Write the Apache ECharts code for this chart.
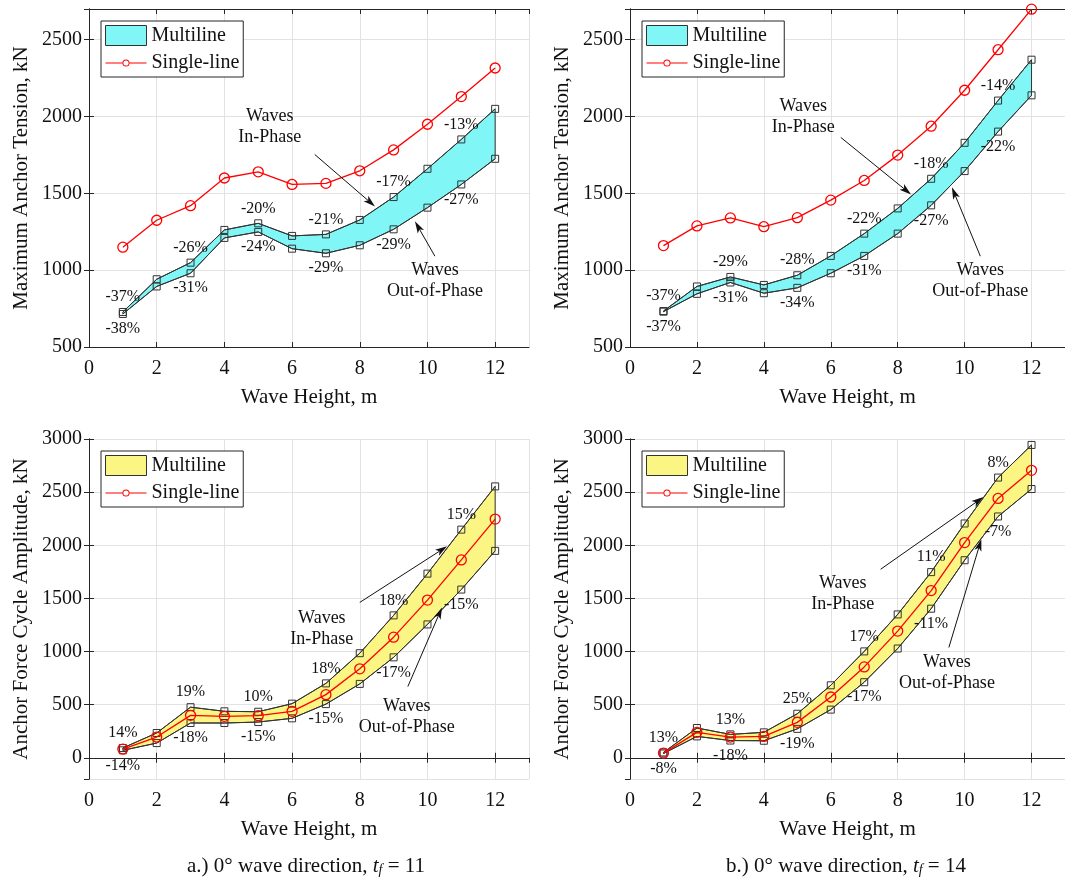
<!DOCTYPE html>
<html>
<head>
<meta charset="utf-8">
<script src="https://cdn.jsdelivr.net/npm/echarts@6/dist/echarts.min.js"></script>
<style>
  html, body { margin: 0; background: #fff; }
  #chart { width: 1065px; height: 879px; }
</style>
</head>
<body>
<div id="chart"></div>
<script>
// wave height, m
const waveHeight = [1, 2, 3, 4, 5, 6, 7, 8, 9, 10, 11, 12];

// maximum anchor tension, kN  (tf = 11)
const tensionSingle11 = [1150, 1325, 1420, 1600, 1640, 1558, 1565, 1647, 1783, 1950, 2130, 2316];
const tensionIn11 = [728, 941, 1049, 1262, 1305, 1223, 1233, 1327, 1476, 1660, 1851, 2050];
const tensionOut11 = [715, 894, 980, 1210, 1249, 1140, 1110, 1162, 1266, 1407, 1558, 1725];
const tensionInPct11 = ['-37%', '', '-26%', '', '-20%', '', '-21%', '', '-17%', '', '-13%', ''];
const tensionOutPct11 = ['-38%', '', '-31%', '', '-24%', '', '-29%', '', '-29%', '', '-27%', ''];

// maximum anchor tension, kN  (tf = 14)
const tensionSingle14 = [1160, 1288, 1340, 1283, 1342, 1456, 1584, 1749, 1937, 2171, 2435, 2699];
const tensionIn14 = [734, 894, 956, 904, 967, 1093, 1238, 1402, 1595, 1829, 2104, 2370];
const tensionOut14 = [730, 846, 920, 850, 885, 980, 1093, 1238, 1422, 1645, 1902, 2138];
const tensionInPct14 = ['-37%', '', '-29%', '', '-28%', '', '-22%', '', '-18%', '', '-14%', ''];
const tensionOutPct14 = ['-37%', '', '-31%', '', '-34%', '', '-31%', '', '-27%', '', '-22%', ''];

// anchor force cycle amplitude, kN  (tf = 11)
const ampSingle11 = [82, 195, 399, 390, 396, 437, 594, 837, 1135, 1484, 1862, 2246];
const ampIn11 = [92, 233, 476, 437, 433, 509, 700, 984, 1340, 1733, 2147, 2554];
const ampOut11 = [70, 138, 327, 327, 336, 371, 505, 695, 945, 1255, 1583, 1947];
const ampInPct11 = ['14%', '', '19%', '', '10%', '', '18%', '', '18%', '', '15%', ''];
const ampOutPct11 = ['-14%', '', '-18%', '', '-15%', '', '-15%', '', '-17%', '', '-15%', ''];

// anchor force cycle amplitude, kN  (tf = 14)
const ampSingle14 = [44, 239, 195, 201, 333, 572, 855, 1192, 1573, 2025, 2441, 2705];
const ampIn14 = [50, 280, 220, 239, 414, 682, 1001, 1349, 1747, 2205, 2637, 2944];
const ampOut14 = [40, 201, 162, 160, 272, 453, 711, 1028, 1403, 1859, 2271, 2529];
const ampInPct14 = ['13%', '', '13%', '', '25%', '', '17%', '', '11%', '', '8%', ''];
const ampOutPct14 = ['-8%', '', '-18%', '', '-19%', '', '-17%', '', '-11%', '', '-7%', ''];

// annotation anchors in data units: text x, text y, arrow start x, y, arrow tip x, y
const noteTexts = ['Waves\nIn-Phase', 'Waves\nOut-of-Phase'];
const notes = [
  [[5.34, 1935, 6.67, 1753, 8.45, 1415], [10.22, 928, 10.22, 1091, 9.63, 1318]],
  [[5.18, 2000, 6.30, 1864, 8.40, 1493], [10.47, 928, 10.47, 1091, 9.62, 1539]],
  [[6.88, 1217, 8.0, 1462, 10.58, 1990], [9.39, 387, 9.42, 670, 10.43, 1415]],
  [[6.36, 1547, 7.49, 1774, 10.56, 2453], [9.47, 802, 9.53, 1038, 10.50, 2057]]
];

const FONT = 'Liberation Serif';
const INK = '#111111';
const EDGE = '#333333';
const CYAN = '#80f6f6';
const YELLOW = '#fbf683';

const panels = [
  { single: tensionSingle11, upper: tensionIn11, lower: tensionOut11, upPct: tensionInPct11, lowPct: tensionOutPct11,
    band: CYAN, yName: 'Maximum Anchor Tension, kN', yMin: 500, yMax: 2700,
    grid: { left: 89, top: 9, width: 440, height: 338 } },
  { single: tensionSingle14, upper: tensionIn14, lower: tensionOut14, upPct: tensionInPct14, lowPct: tensionOutPct14,
    band: CYAN, yName: 'Maximum Anchor Tension, kN', yMin: 500, yMax: 2700,
    grid: { left: 630, top: 9, width: 440, height: 338 } },
  { single: ampSingle11, upper: ampIn11, lower: ampOut11, upPct: ampInPct11, lowPct: ampOutPct11,
    band: YELLOW, yName: 'Anchor Force Cycle Amplitude, kN', yMin: -200, yMax: 3000,
    grid: { left: 89, top: 439, width: 440, height: 340 } },
  { single: ampSingle14, upper: ampIn14, lower: ampOut14, upPct: ampInPct14, lowPct: ampOutPct14,
    band: YELLOW, yName: 'Anchor Force Cycle Amplitude, kN', yMin: -200, yMax: 3000,
    grid: { left: 630, top: 439, width: 440, height: 340 } }
];

const pairs = (ys) => waveHeight.map((x, k) => [x, ys[k]]);

const grids = [], xAxes = [], yAxes = [], series = [], legends = [];

// small red line + hollow circle for the legend
const singleIcon = 'path://M0,9.4h16.9v1.2H0z M24.1,9.4H41v1.2H24.1z ' +
  'M24.1,10a3.6,3.6 0 1,0 -7.2,0a3.6,3.6 0 1,0 7.2,0z M23.1,10a2.6,2.6 0 1,1 -5.2,0a2.6,2.6 0 1,1 5.2,0z';

// text + arrow, placed through the axes
function renderNote(params, api) {
  const t = api.coord([api.value(0), api.value(1)]);
  const s = api.coord([api.value(2), api.value(3)]);
  const e = api.coord([api.value(4), api.value(5)]);
  const len = Math.hypot(e[0] - s[0], e[1] - s[1]);
  const dx = (e[0] - s[0]) / len, dy = (e[1] - s[1]) / len;
  const L = 12, W = 3.6, N = 9;
  const b = [e[0] - dx * L, e[1] - dy * L];
  const n = [e[0] - dx * N, e[1] - dy * N];
  return {
    type: 'group',
    children: [
      { type: 'line', shape: { x1: s[0], y1: s[1], x2: n[0], y2: n[1] },
        style: { stroke: INK, lineWidth: 1 } },
      { type: 'polygon',
        shape: { points: [e, [b[0] - dy * W, b[1] + dx * W], n, [b[0] + dy * W, b[1] - dx * W]] },
        style: { fill: INK } },
      { type: 'text', x: t[0], y: t[1],
        style: { text: noteTexts[params.dataIndex], fontFamily: FONT, fontSize: 18, lineHeight: 21,
                 fill: INK, align: 'center', verticalAlign: 'middle' } }
    ]
  };
}

panels.forEach((p, i) => {
  grids.push(p.grid);
  const lineAx = { show: true, lineStyle: { color: '#262626', width: 1 } };
  const tickIn = { show: true, inside: true, length: 5, lineStyle: { color: '#262626' } };

  xAxes.push({
    type: 'value', gridIndex: i, min: 0, max: 13, interval: 2,
    axisLine: lineAx, axisTick: tickIn,
    axisLabel: { showMaxLabel: false, margin: 12, fontFamily: FONT, fontSize: 20, color: INK },
    splitLine: { show: true, lineStyle: { color: '#e2e2e2' } },
    name: 'Wave Height, m', nameLocation: 'middle', nameGap: 40,
    nameTextStyle: { fontFamily: FONT, fontSize: 21, color: INK }
  });
  xAxes.push({
    type: 'value', gridIndex: i, position: 'top', min: 0, max: 13, interval: 2,
    axisLine: lineAx, axisTick: tickIn, axisLabel: { show: false }, splitLine: { show: false }
  });

  const yScale = p.yMin % 500 === 0
    ? { min: p.yMin, max: p.yMax, interval: 500 }
    : { min: p.yMin, max: p.yMax, minInterval: 500, maxInterval: 500, splitNumber: 6 };
  yAxes.push(Object.assign({
    type: 'value', gridIndex: i,
    axisLine: lineAx, axisTick: tickIn,
    axisLabel: { showMaxLabel: p.yMax % 500 === 0, showMinLabel: p.yMin % 500 === 0, margin: 7,
                 fontFamily: FONT, fontSize: 20, color: INK, formatter: (v) => String(v) },
    splitLine: { show: true, lineStyle: { color: '#e2e2e2' } },
    name: p.yName, nameLocation: 'middle', nameGap: 57,
    nameTextStyle: { fontFamily: FONT, fontSize: 21, color: INK }
  }, yScale));
  yAxes.push(Object.assign({
    type: 'value', gridIndex: i, position: 'right',
    axisLine: lineAx, axisTick: tickIn, axisLabel: { show: false }, splitLine: { show: false }
  }, yScale));

  const ax = { xAxisIndex: 2 * i, yAxisIndex: 2 * i };
  const pctLabel = (arr, pos) => ({
    show: true, position: pos, distance: 3,
    fontFamily: FONT, fontSize: 16, color: INK,
    formatter: (d) => arr[d.dataIndex]
  });

  // filled band between in-phase and out-of-phase results
  series.push(Object.assign({
    type: 'custom', name: 'Multiline', coordinateSystem: 'cartesian2d', silent: true, z: 1,
    itemStyle: { color: p.band },
    encode: { x: 0, y: [1, 2] },
    data: waveHeight.map((x, k) => [x, p.upper[k], p.lower[k]]),
    renderItem: (params, api) => {
      if (params.dataIndexInside !== 0) return null;
      const top = [], bot = [];
      for (let j = 0; j < params.dataInsideLength; j++) {
        top.push(api.coord([api.value(0, j), api.value(1, j)]));
        bot.push(api.coord([api.value(0, j), api.value(2, j)]));
      }
      return {
        type: 'polygon',
        shape: { points: top.concat(bot.reverse()) },
        style: { fill: p.band, stroke: EDGE, lineWidth: 1 }
      };
    }
  }, ax));

  // band outlines with square markers
  series.push(Object.assign({
    type: 'line', data: pairs(p.upper), symbol: 'rect', symbolSize: 7,
    lineStyle: { color: EDGE, width: 1 },
    itemStyle: { color: 'transparent', borderColor: EDGE, borderWidth: 1 },
    label: pctLabel(p.upPct, 'top'), z: 2
  }, ax));
  series.push(Object.assign({
    type: 'line', data: pairs(p.lower), symbol: 'rect', symbolSize: 7,
    lineStyle: { color: EDGE, width: 1 },
    itemStyle: { color: 'transparent', borderColor: EDGE, borderWidth: 1 },
    label: pctLabel(p.lowPct, 'bottom'), z: 2
  }, ax));

  // single-line result
  series.push(Object.assign({
    type: 'line', name: 'Single-line', data: pairs(p.single), symbol: 'circle', symbolSize: 10,
    lineStyle: { color: '#ff0000', width: 1.3 },
    itemStyle: { color: 'transparent', borderColor: '#ff0000', borderWidth: 1.3 }, z: 3
  }, ax));

  // "Waves In-Phase" / "Waves Out-of-Phase" notes with arrows
  series.push(Object.assign({
    type: 'custom', coordinateSystem: 'cartesian2d', silent: true, z: 4, clip: false,
    encode: { x: [0, 2, 4], y: [1, 3, 5] },
    data: notes[i],
    renderItem: renderNote
  }, ax));

  legends.push({
    left: p.grid.left + 12, top: p.grid.top + 12, orient: 'vertical',
    padding: [4, 4, 4, 4], itemGap: 7, itemWidth: 41, itemHeight: 20,
    borderColor: '#262626', borderWidth: 1, backgroundColor: '#fff',
    selectedMode: false, z: 10,
    textStyle: { fontFamily: FONT, fontSize: 20, color: INK },
    data: [
      { name: 'Multiline', icon: 'rect', itemStyle: { color: p.band, borderColor: EDGE, borderWidth: 1 } },
      { name: 'Single-line', icon: singleIcon, itemStyle: { color: '#ff0000', borderWidth: 0 } }
    ]
  });
});

const captionRich = {
  i: { fontFamily: FONT, fontSize: 21, fontStyle: 'italic', fill: INK },
  s: { fontFamily: FONT, fontSize: 14, fontStyle: 'italic', fill: INK, padding: [9, 0, 0, 0] }
};

const chart = echarts.init(document.getElementById('chart'));
chart.setOption({
  animation: false,
  backgroundColor: '#fff',
  grid: grids,
  xAxis: xAxes,
  yAxis: yAxes,
  legend: legends,
  series: series,
  graphic: [
    { type: 'text', x: 306, y: 866,
      style: { text: 'a.) 0° wave direction, {i|t}{s|f} = 11', fontFamily: FONT, fontSize: 21, fill: INK,
               align: 'center', verticalAlign: 'middle', rich: captionRich } },
    { type: 'text', x: 846, y: 866,
      style: { text: 'b.) 0° wave direction, {i|t}{s|f} = 14', fontFamily: FONT, fontSize: 21, fill: INK,
               align: 'center', verticalAlign: 'middle', rich: captionRich } }
  ]
});
</script>
</body>
</html>
